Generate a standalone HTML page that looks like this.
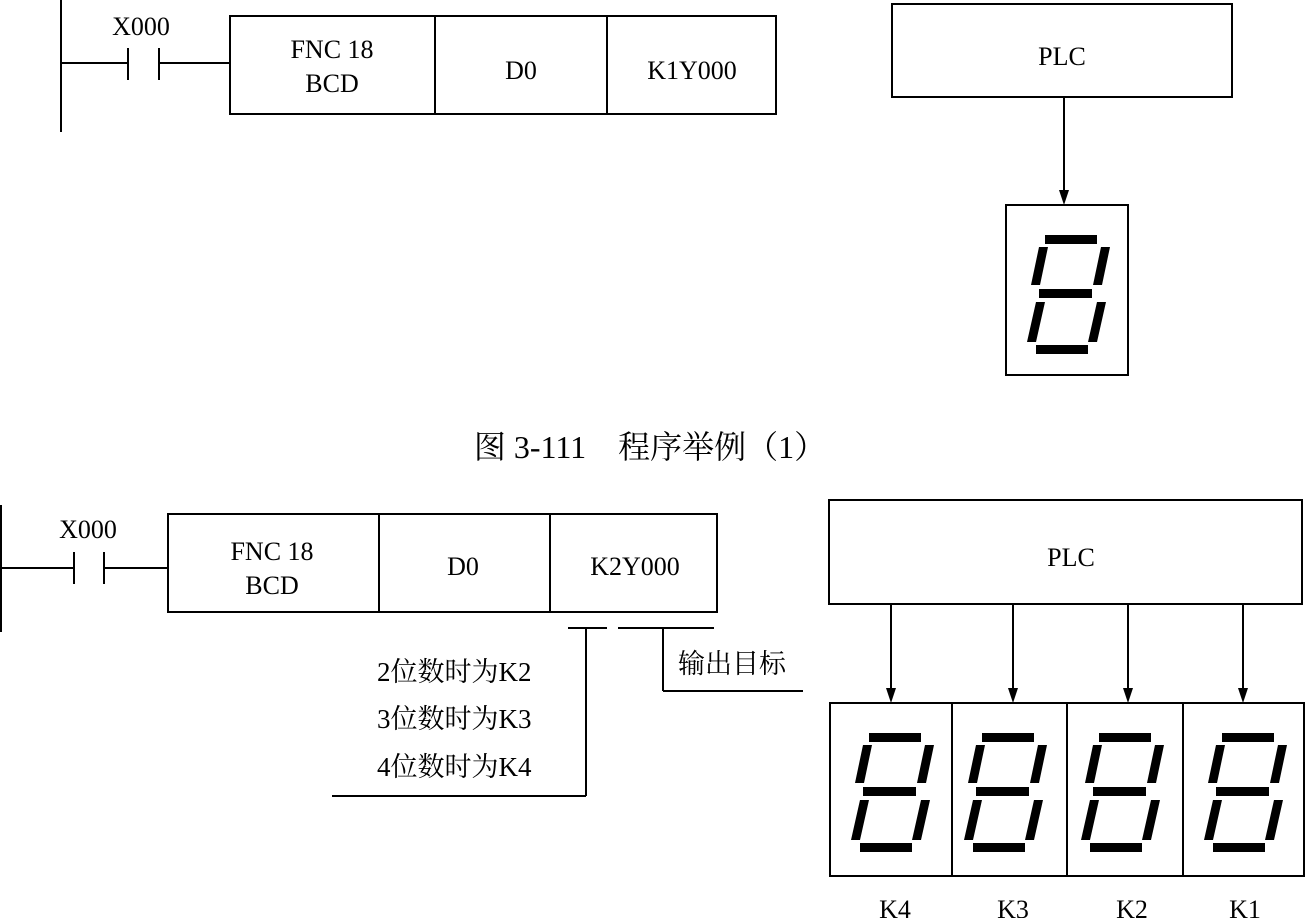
<!DOCTYPE html>
<html><head><meta charset="utf-8"><style>
html,body{margin:0;padding:0;background:#fff;}
svg{display:block;}
text{font-family:"Liberation Serif","Noto Serif CJK SC",serif;fill:#000;}
</style></head><body>
<svg width="1306" height="918" viewBox="0 0 1306 918" xmlns="http://www.w3.org/2000/svg">
<defs>
<g id="dig" fill="#000">
<polygon points="1045,235 1097,235 1097,244 1045,244"/>
<polygon points="1039,289 1092,289 1092,298 1039,298"/>
<polygon points="1036,345 1088,345 1088,354 1036,354"/>
<polygon points="1039,247 1048,247 1040,285 1031,285"/>
<polygon points="1036,302 1045,302 1036,342 1027,342"/>
<polygon points="1101,247 1110,247 1102,285 1093,285"/>
<polygon points="1097,302 1106,302 1097,342 1088,342"/>
</g>
<marker id="ar" markerWidth="10" markerHeight="14" refX="5" refY="14" orient="auto-start-reverse" markerUnits="userSpaceOnUse">
<polygon points="0,0 10,0 5,14" fill="#000" transform="rotate(0)"/>
</marker>
</defs>
<g stroke="#000" stroke-width="2" fill="none">
<!-- top ladder -->
<line x1="61" y1="0" x2="61" y2="132"/>
<line x1="61" y1="63" x2="128" y2="63"/>
<line x1="128" y1="48" x2="128" y2="80"/>
<line x1="159" y1="48" x2="159" y2="80"/>
<line x1="159" y1="63" x2="230" y2="63"/>
<rect x="230" y="16" width="546" height="98"/>
<line x1="435" y1="16" x2="435" y2="114"/>
<line x1="607" y1="16" x2="607" y2="114"/>
<rect x="892" y="4" width="340" height="93"/>
<line x1="1064" y1="97" x2="1064" y2="192"/>
<rect x="1006" y="205" width="122" height="170"/>
<!-- bottom ladder -->
<line x1="1" y1="505" x2="1" y2="632"/>
<line x1="1" y1="568" x2="74" y2="568"/>
<line x1="74" y1="552" x2="74" y2="584"/>
<line x1="104" y1="552" x2="104" y2="584"/>
<line x1="104" y1="568" x2="168" y2="568"/>
<rect x="168" y="514" width="549" height="98"/>
<line x1="379" y1="514" x2="379" y2="612"/>
<line x1="550" y1="514" x2="550" y2="612"/>
<line x1="568" y1="628" x2="607" y2="628"/>
<line x1="618" y1="628" x2="714" y2="628"/>
<line x1="586" y1="628" x2="586" y2="796"/>
<line x1="332" y1="796" x2="586" y2="796"/>
<line x1="663" y1="628" x2="663" y2="691"/>
<line x1="663" y1="691" x2="803" y2="691"/>
<rect x="829" y="500" width="473" height="104"/>
<line x1="891" y1="604" x2="891" y2="690"/>
<line x1="1013" y1="604" x2="1013" y2="690"/>
<line x1="1128" y1="604" x2="1128" y2="690"/>
<line x1="1243" y1="604" x2="1243" y2="690"/>
<rect x="830" y="703" width="474" height="173"/>
<line x1="952" y1="703" x2="952" y2="876"/>
<line x1="1067" y1="703" x2="1067" y2="876"/>
<line x1="1183" y1="703" x2="1183" y2="876"/>
</g>
<g fill="#000">
<polygon points="1059,190 1069,190 1064,205"/>
<polygon points="886,688 896,688 891,703"/>
<polygon points="1008,688 1018,688 1013,703"/>
<polygon points="1123,688 1133,688 1128,703"/>
<polygon points="1238,688 1248,688 1243,703"/>
</g>
<use href="#dig"/>
<use href="#dig" transform="translate(-176,498)"/>
<use href="#dig" transform="translate(-63,498)"/>
<use href="#dig" transform="translate(54,498)"/>
<use href="#dig" transform="translate(177,498)"/>
<g font-size="26" text-anchor="middle">
<text x="141" y="35">X000</text>
<text x="332" y="58">FNC 18</text>
<text x="332" y="92">BCD</text>
<text x="521" y="79">D0</text>
<text x="692" y="79">K1Y000</text>
<text x="1062" y="65">PLC</text>
<text x="88" y="538">X000</text>
<text x="272" y="560">FNC 18</text>
<text x="272" y="594">BCD</text>
<text x="463" y="575">D0</text>
<text x="635" y="575">K2Y000</text>
<text x="1071" y="566">PLC</text>
<text x="895" y="918">K4</text>
<text x="1013" y="918">K3</text>
<text x="1132" y="918">K2</text>
<text x="1245" y="918">K1</text>
</g>
<g font-size="27">
<text x="377" y="681">2位数时为K2</text>
<text x="377" y="728">3位数时为K3</text>
<text x="377" y="776">4位数时为K4</text>
<text x="678" y="673">输出目标</text>
</g>
<text x="650" y="458" font-size="32" text-anchor="middle">图 3-111　程序举例（1）</text>
</svg>
</body></html>
